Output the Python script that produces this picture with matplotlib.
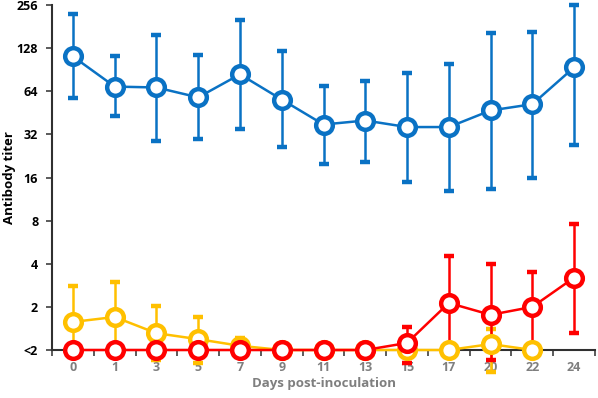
import numpy as np
import matplotlib
matplotlib.use("Agg")
import matplotlib.pyplot as plt
from matplotlib.ticker import FixedLocator, NullFormatter

# data (titers, "<2" plotted as 1)
days = ["0", "1", "3", "5", "7", "9", "11", "13", "15", "17", "20", "22", "24"]

blue_mean = [112, 69, 68, 58, 84, 56, 37.5, 40, 36, 36, 47, 52, 94]
blue_low = [57, 43, 29, 29.5, 35, 26, 20, 20.4, 14.8, 12.8, 13.4, 16, 27]
blue_high = [221, 112, 158, 114, 201, 122, 69.5, 76, 86, 99, 163, 166, 256]

yellow_mean = [1.57, 1.7, 1.31, 1.19, 1.07, 1.0, 1.0, 1.0, 1.0, 1.0, 1.1, 1.0]
yellow_low = [1.0, 1.0, 0.85, 0.81, 1.0, 1.0, 1.0, 1.0, 1.0, 1.0, 0.7, 1.0]
yellow_high = [2.8, 3.0, 2.03, 1.7, 1.21, 1.0, 1.0, 1.0, 1.0, 1.0, 1.4, 1.0]

red_mean = [1.0, 1.0, 1.0, 1.0, 1.0, 1.0, 1.0, 1.0, 1.12, 2.13, 1.76, 2.0, 3.2]
red_low = [1.0, 1.0, 1.0, 1.0, 1.0, 1.0, 1.0, 1.0, 0.81, 1.0, 0.85, 1.0, 1.32]
red_high = [1.0, 1.0, 1.0, 1.0, 1.0, 1.0, 1.0, 1.0, 1.45, 4.5, 4.0, 3.5, 7.6]

ytick_vals = [1, 2, 4, 8, 16, 32, 64, 128, 256]
ytick_labels = ["<2", "2", "4", "8", "16", "32", "64", "128", "256"]

plt.rcParams['font.family'] = ['Open Sans', 'DejaVu Sans']
plt.rcParams['font.weight'] = 'bold'

fig = plt.figure(figsize=(5.98, 3.98), dpi=100)
ax = fig.add_axes([0.087, 0.1206, 0.908, 0.8668])


def draw(mean, low, high, color):
    x = np.arange(len(mean))
    mean = np.array(mean)
    err = [mean - np.array(low), np.array(high) - mean]
    ax.errorbar(x, mean, yerr=err, color=color, lw=1.8, elinewidth=1.8,
                capsize=3.5, capthick=1.4, marker='o', ms=12,
                mfc='white', mec=color, mew=3.2, clip_on=False, zorder=3)


draw(blue_mean, blue_low, blue_high, '#0A72C4')
draw(yellow_mean, yellow_low, yellow_high, '#FFC000')
draw(red_mean, red_low, red_high, '#FF0000')

ax.set_yscale('log', base=2)
ax.set_ylim(1, 256)
ax.yaxis.set_major_locator(FixedLocator(ytick_vals))
ax.set_yticklabels(ytick_labels)
ax.yaxis.set_minor_formatter(NullFormatter())
ax.yaxis.set_minor_locator(FixedLocator([]))

ax.set_xlim(-0.5, len(days) - 0.5)
ax.set_xticks(np.arange(len(days)))
ax.set_xticklabels(days, color='#7F7F7F')
ax.set_xticks(np.arange(len(days) + 1) - 0.5, minor=True)
ax.tick_params(axis='x', which='major', length=0, pad=8, labelsize=9)
ax.tick_params(axis='x', which='minor', length=4, width=1.2, color='#404040')
ax.tick_params(axis='y', length=4, width=1.2, color='#404040', labelsize=9, pad=6)

for s in ['top', 'right']:
    ax.spines[s].set_visible(False)
for s in ['left', 'bottom']:
    ax.spines[s].set_linewidth(1.5)
    ax.spines[s].set_color('#303030')

ax.set_xlabel('Days post-inoculation', color='#7F7F7F', fontsize=9.5,
              fontweight='bold', labelpad=2)
fig.text(3 / 598, 1 - 178 / 398, 'Antibody titer', rotation=90,
         ha='left', va='center', fontsize=9.5, fontweight='bold')

fig.savefig('out.png', dpi=100)
